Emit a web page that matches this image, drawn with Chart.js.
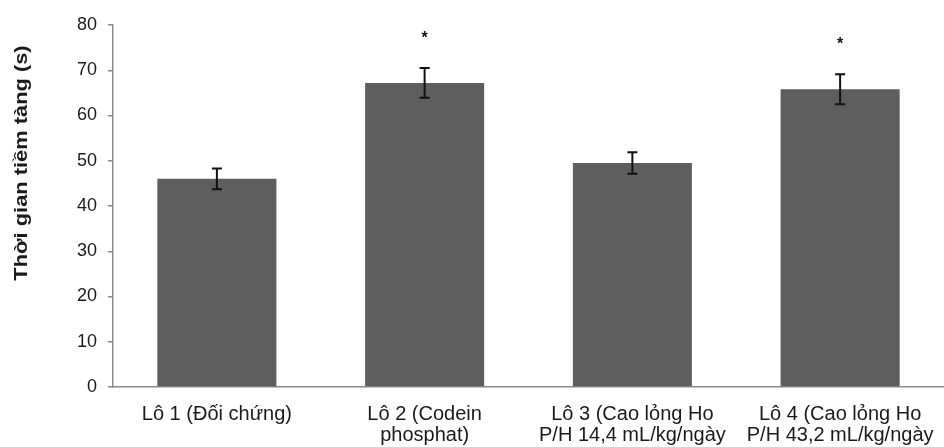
<!DOCTYPE html>
<html>
<head>
<meta charset="utf-8">
<script src="https://cdn.jsdelivr.net/npm/chart.js@4.4.0/dist/chart.umd.min.js"></script>
<style>
  html,body{margin:0;padding:0;background:#fff;}
  #wrap{width:944px;height:447px;position:relative;}
</style>
</head>
<body>
<div id="wrap"><canvas id="chart"></canvas></div>
<script>
// data
const categories=[
    "Lô 1 (Đối chứng)",
    ["Lô 2 (Codein","phosphat)"],
    ["Lô 3 (Cao lỏng Ho","P/H 14,4 mL/kg/ngày"],
    ["Lô 4 (Cao lỏng Ho","P/H 43,2 mL/kg/ngày"]
];
const means=[46.0,67.2,49.5,65.8];
const errors=[2.3,3.3,2.4,3.3];
const marks=["","*","","*"];
const yMin=0,yMax=80,yStep=10;
const yTitle="Thời gian tiềm tàng (s)";

const FONT='"Liberation Sans", Arial, sans-serif';

// error bars + significance stars
const errorBars={
    id:"errorBars",
    afterDatasetsDraw:function(chart){
        var ctx=chart.ctx;
        var meta=chart.getDatasetMeta(0);
        var y=chart.scales.y;
        ctx.save();
        ctx.strokeStyle="#111";
        ctx.lineWidth=2;
        meta.data.forEach(function(bar,i){
            var x=bar.x;
            var top=y.getPixelForValue(means[i]+errors[i]);
            var bot=y.getPixelForValue(means[i]-errors[i]);
            ctx.beginPath();
            ctx.moveTo(x,top);ctx.lineTo(x,bot);
            ctx.moveTo(x-5,top);ctx.lineTo(x+5,top);
            ctx.moveTo(x-5,bot);ctx.lineTo(x+5,bot);
            ctx.stroke();
            if(marks[i]){
                ctx.fillStyle="#111";
                ctx.font="bold 16px "+FONT;
                ctx.textAlign="center";
                ctx.textBaseline="alphabetic";
                ctx.fillText(marks[i],x,top-25);
            }
        });
        ctx.restore();
    }
};

// y axis title, placed like the original
const yAxisTitle={
    id:"yAxisTitle",
    afterDraw:function(chart){
        var ctx=chart.ctx;
        ctx.save();
        ctx.translate(22,163);
        ctx.rotate(-Math.PI/2);
        ctx.scale(1.15,1);
        ctx.font="bold 19px "+FONT;
        ctx.fillStyle="#1a1a1a";
        ctx.textAlign="center";
        ctx.textBaseline="middle";
        ctx.fillText(yTitle,0,0);
        ctx.restore();
    }
};

var ctx=document.getElementById("chart").getContext("2d");
var myChart=new Chart(ctx,{
    type:"bar",
    data:{
        labels:categories,
        datasets:[{
            data:means,
            backgroundColor:"#5e5e5e",
            borderWidth:0,
            barPercentage:0.573,
            categoryPercentage:1
        }]
    },
    options:{
        responsive:true,
        maintainAspectRatio:false,
        animation:false,
        layout:{padding:{top:25,right:-3,bottom:0,left:0}},
        plugins:{legend:{display:false},tooltip:{enabled:false}},
        scales:{
            x:{
                grid:{display:false,drawTicks:false},
                border:{display:true,color:"#8a8a8a",width:1.5},
                ticks:{
                    color:"#1a1a1a",
                    font:{family:FONT,size:20,lineHeight:1.05},
                    padding:17,
                    maxRotation:0,
                    autoSkip:false
                },
                afterFit:function(scale){
                    scale.height=60;
                    scale.paddingLeft=0;
                    scale.paddingRight=0;
                }
            },
            y:{
                min:yMin,
                max:yMax,
                grid:{drawOnChartArea:false,tickLength:5,color:"#8a8a8a",lineWidth:1.5},
                border:{display:true,color:"#8a8a8a",width:1.5},
                ticks:{
                    stepSize:yStep,
                    color:"#1a1a1a",
                    font:{family:FONT,size:18},
                    padding:11
                },
                afterFit:function(scale){scale.width=113;}
            }
        }
    },
    plugins:[errorBars,yAxisTitle]
});
</script>
</body>
</html>
